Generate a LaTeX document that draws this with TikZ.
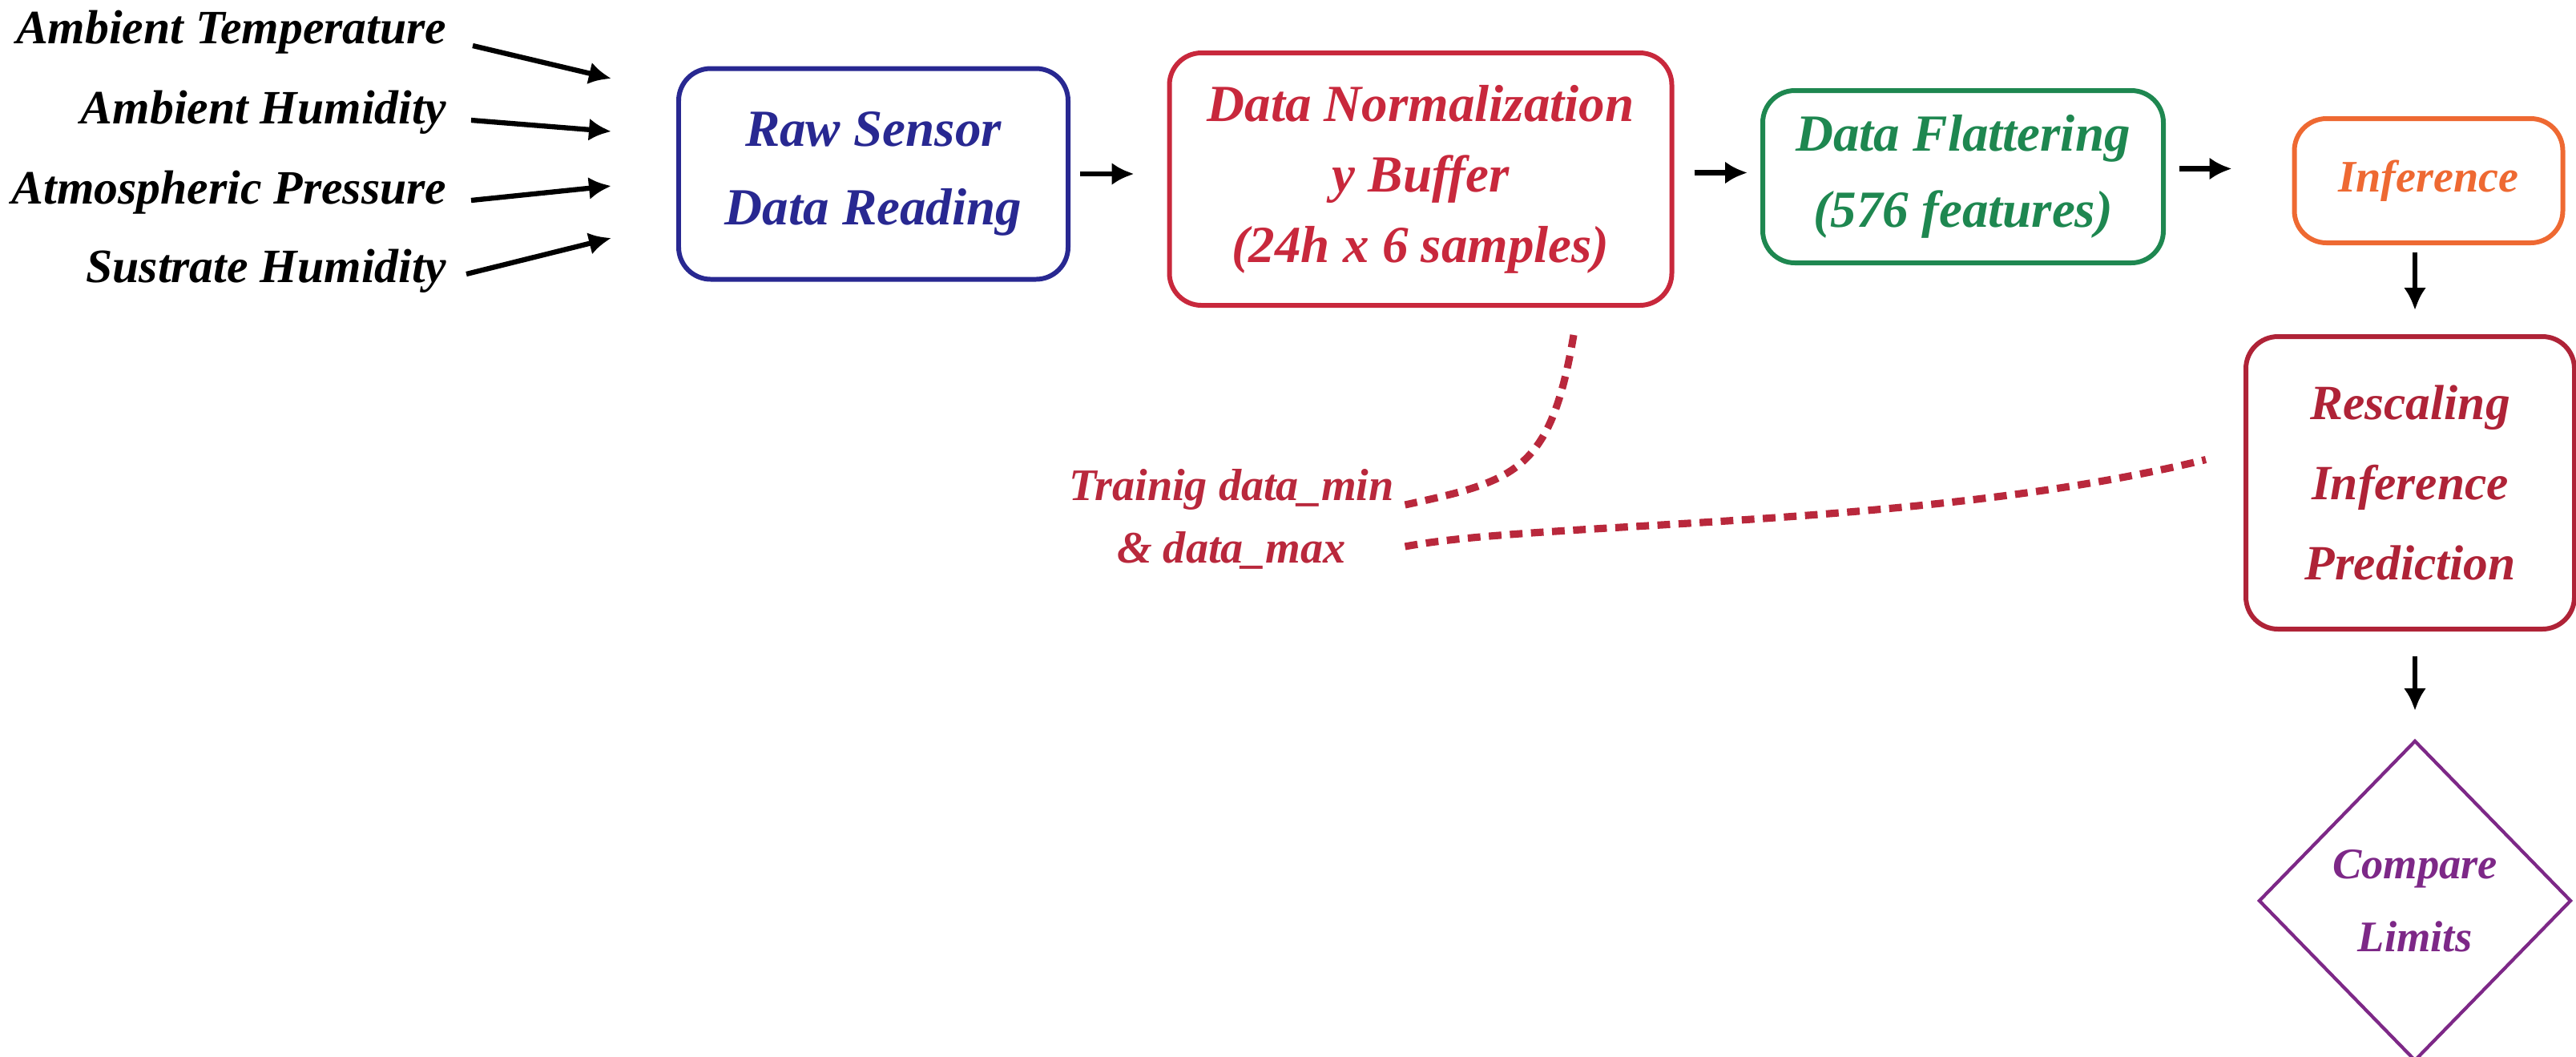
\documentclass[tikz,border=0pt]{standalone}
\usepackage{fontspec}
\setmainfont{Liberation Serif}
\usepackage{tikz}
\usetikzlibrary{shapes.geometric, positioning, arrows.meta}
\definecolor{rawblue}{RGB}{40,40,145}
\definecolor{normred}{RGB}{200,40,60}
\definecolor{flatgreen}{RGB}{30,135,80}
\definecolor{inforange}{RGB}{238,105,50}
\definecolor{rescred}{RGB}{175,35,55}
\definecolor{cmppurple}{RGB}{125,40,135}
\definecolor{trainred}{RGB}{185,40,60}
\tikzset{procbox/.style={draw, rounded corners=4mm, line width=1.7pt, align=center, inner sep=0pt,
    font=\fontsize{18.5}{27}\selectfont\bfseries\itshape},
  sensorlbl/.style={inner sep=0pt, font=\fontsize{17}{20}\selectfont\bfseries\itshape, anchor=east},
  arr/.style={line width=1.8pt, -{Latex[length=2.8mm,width=2.8mm]}},
  minmaxlink/.style={trainred, line width=2.6pt, dash pattern=on 4.5pt off 3pt}}

\begin{document}
\begin{tikzpicture}
            \useasboundingbox (0,0) rectangle (32.15,-13.18);
            % sensor inputs
            \node[sensorlbl] (ambT) at (5.58,-0.40) {Ambient Temperature};
            \node[sensorlbl] (ambH) at (5.58,-1.40) {Ambient Humidity};
            \node[sensorlbl] (atmP) at (5.58,-2.40) {Atmospheric Pressure};
            \node[sensorlbl] (susH) at (5.58,-3.38) {Sustrate Humidity};
            \coordinate (inT) at (7.63,-0.98);
            \coordinate (inH) at (7.63,-1.64);
            \coordinate (inP) at (7.63,-2.32);
            \coordinate (inS) at (7.63,-2.97);
            \draw[arr]([shift={(3.2mm,-1.7mm)}]ambT.east)--(inT);
            \draw[arr]([shift={(3mm,-1mm)}]ambH.east)--(inH);
            \draw[arr]([shift={(3mm,-1mm)}]atmP.east)--(inP);
            \draw[arr]([shift={(2.4mm,-0.4mm)}]susH.east)--(inS);
            % processing chain
            \node[procbox, draw=rawblue, text=rawblue, minimum width=4.86cm, minimum height=2.63cm,
                font=\fontsize{18.5}{28}\selectfont\bfseries\itshape] (raw) at (10.90,-2.17) {Raw Sensor\\Data Reading};
            \node[procbox, draw=normred, text=normred, minimum width=6.27cm, minimum height=3.15cm,
                font=\fontsize{18.5}{25}\selectfont\bfseries\itshape] (norm) at (17.73,-2.235) {Data Normalization\\y Buffer\\(24h x 6 samples)};
            \node[procbox, draw=flatgreen, text=flatgreen, minimum width=5.00cm, minimum height=2.15cm] (flat) at (24.50,-2.205) {Data Flattering\\(576 features)};
            \node[procbox, draw=inforange, text=inforange, minimum width=3.35cm, minimum height=1.55cm,
                font=\fontsize{16}{20}\selectfont\bfseries\itshape] (infer) at (30.31,-2.255) {Inference};
            \node[procbox, draw=rescred, text=rescred, minimum width=4.10cm, minimum height=3.65cm,
                font=\fontsize{17.5}{28.5}\selectfont\bfseries\itshape] (resc) at (30.08,-6.025) {Rescaling\\Inference\\Prediction};
            \node[draw=cmppurple, text=cmppurple, diamond, line width=1.2pt, inner sep=0pt, align=center,
                minimum width=3.9cm, minimum height=4.0cm, font=\fontsize{15.5}{26}\selectfont\bfseries\itshape] (cmp) at (30.14,-11.24) {Compare\\Limits};
            \draw[arr, shorten <=1.2mm, shorten >=4.1mm](raw.east)--(raw.east -| norm.west);
            \draw[arr, shorten <=2.5mm, shorten >=1.6mm]([yshift=0.8mm]norm.east)--([yshift=0.8mm]norm.east -| flat.west);
            \draw[arr, shorten <=1.7mm, shorten >=7.5mm]([yshift=1mm]flat.east)--([yshift=1mm]flat.east -| infer.west);
            \draw[arr, shorten <=0.9mm, shorten >=3mm]([xshift=-1.7mm]infer.south)--([xshift=-1.7mm]infer.south |- resc.north);
            \draw[arr, shorten <=3.1mm, shorten >=3.5mm](cmp.north |- resc.south)--(cmp.north);
            % min/max of training data
            \node[text=trainred, align=center, inner sep=0pt, font=\fontsize{16}{22}\selectfont\bfseries\itshape] (train) at (15.37,-6.48) {Trainig data\_min\\\& data\_max};
            \coordinate (tn) at ([shift={(1.91cm,-3.4mm)}]norm.south);
            \coordinate (ta) at ([shift={(1.3mm,1.8mm)}]train.east);
            \coordinate (tb) at ([shift={(1.3mm,-3.4mm)}]train.east);
            \coordinate (tr) at ([shift={(-4.7mm,2.9mm)}]resc.west);
            \draw[minmaxlink](tn) .. controls (19.35,-5.9) and (18.9,-6.0) .. (ta);
            \draw[minmaxlink](tb) .. controls (19.2,-6.5) and (24,-6.6) .. (tr);
        \end{tikzpicture}
\end{document}
